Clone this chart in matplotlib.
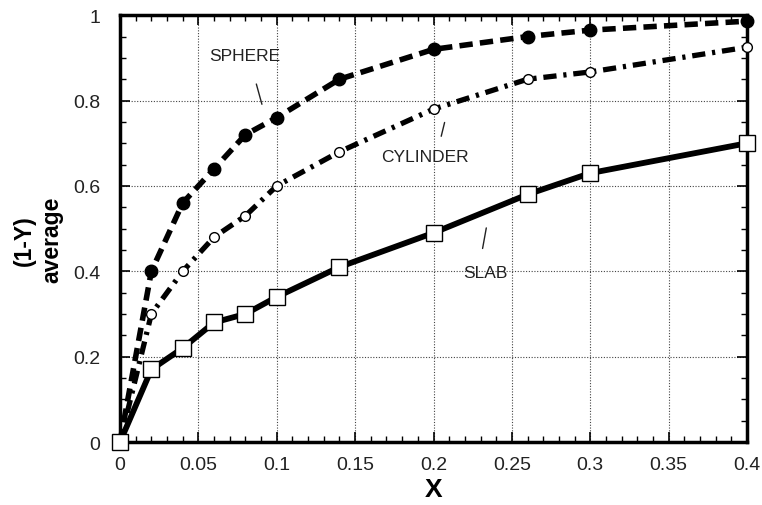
import matplotlib
matplotlib.use("Agg")
import matplotlib.pyplot as plt
from matplotlib.ticker import MultipleLocator

plt.rcParams['font.family'] = ['Liberation Sans', 'DejaVu Sans']

x_vals = [0, 0.02, 0.04, 0.06, 0.08, 0.1, 0.14, 0.2, 0.26, 0.3, 0.4]
sphere = [0, 0.40, 0.56, 0.64, 0.72, 0.76, 0.85, 0.92, 0.95, 0.965, 0.986]
cylinder = [0, 0.30, 0.40, 0.48, 0.53, 0.60, 0.68, 0.78, 0.85, 0.867, 0.925]
slab = [0, 0.17, 0.22, 0.28, 0.30, 0.34, 0.41, 0.49, 0.58, 0.63, 0.70]

x_ticks = [0, 0.05, 0.1, 0.15, 0.2, 0.25, 0.3, 0.35, 0.4]
x_ticklabels = ["0", "0.05", "0.1", "0.15", "0.2", "0.25", "0.3", "0.35", "0.4"]
y_ticks = [0, 0.2, 0.4, 0.6, 0.8, 1.0]
y_ticklabels = ["0", "0.2", "0.4", "0.6", "0.8", "1"]

fig = plt.figure(figsize=(7.62, 5.06), dpi=100)
ax = fig.add_axes([0.1575, 0.1245, 0.8228, 0.8435])

ax.plot(x_vals, sphere, color='black', lw=4, linestyle=(0, (2.4, 1.3)),
        marker='o', markersize=9, markerfacecolor='black', markeredgecolor='black',
        zorder=3, clip_on=False)
ax.plot(x_vals, cylinder, color='black', lw=3.8, linestyle=(0, (2.5, 1.3, 0.6, 1.3)),
        marker='o', markersize=7, markerfacecolor='white', markeredgecolor='black',
        markeredgewidth=1.0, zorder=3, clip_on=False)
ax.plot(x_vals, slab, color='black', lw=4.2, linestyle='-',
        marker='s', markersize=11, markerfacecolor='white', markeredgecolor='black',
        markeredgewidth=1.0, zorder=4, clip_on=False)

ax.set_xlim(0, 0.4)
ax.set_ylim(0, 1)
ax.set_xticks(x_ticks)
ax.set_xticklabels(x_ticklabels)
ax.set_yticks(y_ticks)
ax.set_yticklabels(y_ticklabels)
ax.xaxis.set_minor_locator(MultipleLocator(0.01))
ax.yaxis.set_minor_locator(MultipleLocator(0.05))
ax.tick_params(which='both', direction='in', top=True, right=True, colors='black',
               labelcolor='#222222', labelsize=14)
ax.tick_params(which='major', length=7, width=1.2)
ax.tick_params(axis='x', which='major', pad=10)
ax.tick_params(axis='y', which='major', pad=14)
ax.tick_params(which='minor', length=4, width=1.0)
for s in ax.spines.values():
    s.set_linewidth(2.5)

ax.grid(True, which='major', linestyle=(0, (1, 1.5)), color='#444444', lw=0.8)
ax.set_axisbelow(True)

ax.set_xlabel("X", fontsize=19, fontweight='bold', labelpad=3)
ax.set_ylabel("(1-Y)\naverage", fontsize=16.5, fontweight='bold', linespacing=1.25)
ax.yaxis.set_label_coords(-0.09, 0.475)

# annotations
ax.text(0.0795, 0.905, "SPHERE", fontsize=12.5, ha='center', va='center', color='#222222')
ax.annotate("", xy=(0.091, 0.785), xytext=(0.0865, 0.845),
            arrowprops=dict(arrowstyle='-', color='#222222', lw=1.0))
ax.text(0.1943, 0.67, "CYLINDER", fontsize=12.5, ha='center', va='center', color='#222222')
ax.annotate("", xy=(0.2075, 0.755), xytext=(0.2045, 0.71),
            arrowprops=dict(arrowstyle='-', color='#222222', lw=1.0))
ax.text(0.233, 0.398, "SLAB", fontsize=12.5, ha='center', va='center', color='#222222')
ax.annotate("", xy=(0.234, 0.508), xytext=(0.231, 0.447),
            arrowprops=dict(arrowstyle='-', color='#222222', lw=1.0))

fig.savefig("out.png", dpi=100)
